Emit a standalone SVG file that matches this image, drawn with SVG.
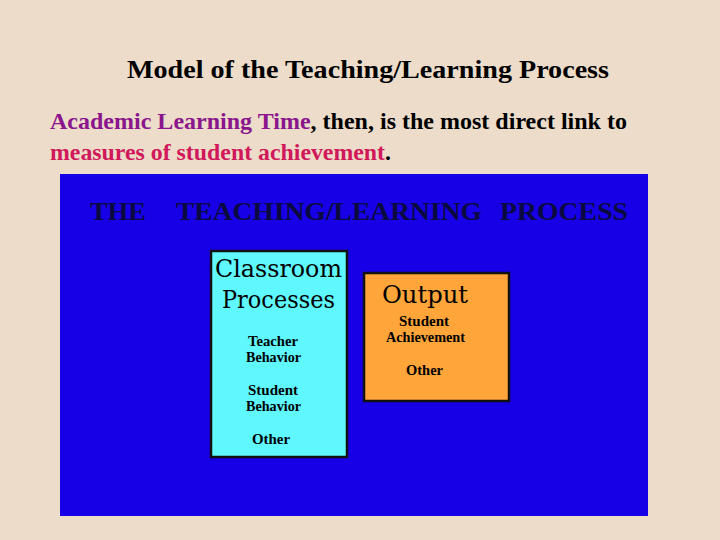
<svg xmlns="http://www.w3.org/2000/svg" width="720" height="540" viewBox="0 0 720 540">
<style>
.serif{font-family:"Liberation Serif","DejaVu Serif",serif;}
.b{font-weight:bold;}
.box{stroke:#111;stroke-width:2.5;}
.lbl{font-family:"Liberation Serif","DejaVu Serif",serif;font-weight:bold;font-size:14px;fill:#000;}
.big{font-family:"DejaVu Serif","Liberation Serif",serif;font-size:25px;fill:#000;}
</style>
<rect width="720" height="540" fill="#ecdcc9"/>
<text class="serif b" x="127" y="78" font-size="26" fill="#000" textLength="482" lengthAdjust="spacingAndGlyphs">Model of the Teaching/Learning Process</text>
<text class="serif b" x="50" y="129" font-size="23" textLength="577" lengthAdjust="spacingAndGlyphs"><tspan fill="#8a158c">Academic Learning Time</tspan><tspan fill="#000">, then, is the most direct link to</tspan></text>
<text class="serif b" x="50" y="160" font-size="23" textLength="341" lengthAdjust="spacingAndGlyphs"><tspan fill="#d0185a">measures of student achievement</tspan><tspan fill="#000">.</tspan></text>
<g id="panel">
<rect x="60" y="174" width="588" height="342" fill="#1800e6"/>
<text class="serif b" x="90" y="220" font-size="26" fill="#0a0a40" textLength="56" lengthAdjust="spacingAndGlyphs">THE</text>
<text class="serif b" x="176" y="220" font-size="26" fill="#0a0a40" textLength="306" lengthAdjust="spacingAndGlyphs">TEACHING/LEARNING</text>
<text class="serif b" x="500" y="220" font-size="26" fill="#0a0a40" textLength="128" lengthAdjust="spacingAndGlyphs">PROCESS</text>
</g>
<g id="classroom">
<rect class="box" x="211" y="251" width="136" height="206" fill="#5ff8ff"/>
<text class="big" x="215" y="277" textLength="127" lengthAdjust="spacingAndGlyphs">Classroom</text>
<text class="big" x="222" y="308" textLength="113" lengthAdjust="spacingAndGlyphs">Processes</text>
<text class="lbl" x="248" y="346" textLength="50" lengthAdjust="spacingAndGlyphs">Teacher</text>
<text class="lbl" x="246" y="362" textLength="55" lengthAdjust="spacingAndGlyphs">Behavior</text>
<text class="lbl" x="248" y="395" textLength="50" lengthAdjust="spacingAndGlyphs">Student</text>
<text class="lbl" x="246" y="411" textLength="55" lengthAdjust="spacingAndGlyphs">Behavior</text>
<text class="lbl" x="252" y="444" textLength="38" lengthAdjust="spacingAndGlyphs">Other</text>
</g>
<g id="output">
<rect class="box" x="364" y="273" width="145" height="128" fill="#ffa53a"/>
<text class="big" x="382" y="303" textLength="86" lengthAdjust="spacingAndGlyphs">Output</text>
<text class="lbl" x="399" y="326" textLength="50" lengthAdjust="spacingAndGlyphs">Student</text>
<text class="lbl" x="386" y="342" textLength="79" lengthAdjust="spacingAndGlyphs">Achievement</text>
<text class="lbl" x="406" y="375" textLength="37" lengthAdjust="spacingAndGlyphs">Other</text>
</g>
<g id="connectors"/>
</svg>
